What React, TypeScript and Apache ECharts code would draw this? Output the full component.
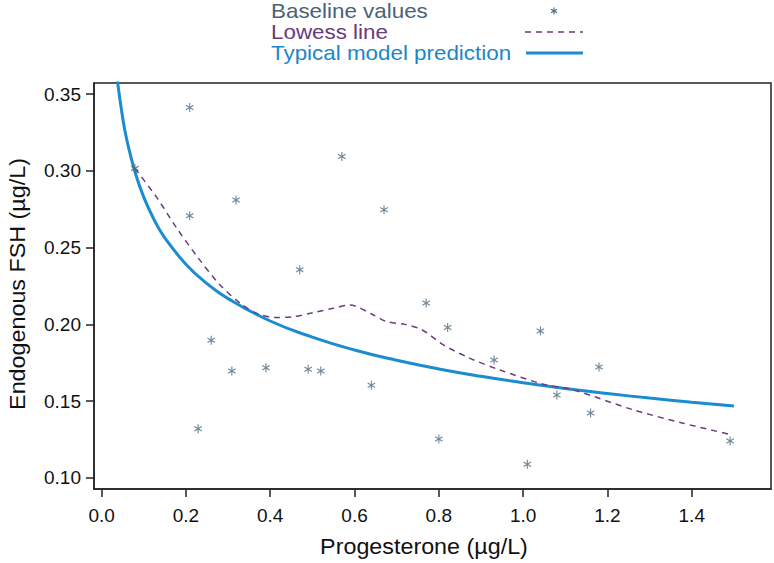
import React, { useEffect, useRef } from "react";
import * as echarts from "echarts";

// Baseline observations (progesterone µg/L, endogenous FSH µg/L)
const baselineX = [0.079, 0.209, 0.209, 0.229, 0.26, 0.309, 0.319, 0.39, 0.47, 0.49, 0.52, 0.57, 0.64, 0.67, 0.77, 0.80, 0.821, 0.931, 1.01, 1.041, 1.08, 1.16, 1.18, 1.491];
const baselineY = [0.3016, 0.3413, 0.2708, 0.1321, 0.1896, 0.1697, 0.281, 0.1718, 0.2356, 0.1708, 0.1697, 0.3094, 0.1603, 0.2747, 0.2139, 0.1254, 0.1979, 0.1768, 0.1089, 0.1957, 0.154, 0.1423, 0.1723, 0.1241];

// Lowess smoother
const lowessX = [0.079, 0.13, 0.18, 0.23, 0.28, 0.33, 0.37, 0.41, 0.455, 0.502, 0.55, 0.589, 0.645, 0.676, 0.72, 0.76, 0.811, 0.874, 0.945, 1.048, 1.119, 1.262, 1.38, 1.487];
const lowessY = [0.3016, 0.283, 0.262, 0.243, 0.226, 0.2135, 0.207, 0.2045, 0.205, 0.2076, 0.2105, 0.2126, 0.2061, 0.2018, 0.2, 0.1965, 0.1866, 0.1779, 0.1703, 0.161, 0.1573, 0.1443, 0.1356, 0.1286];

// Typical model prediction
const modelX = [0.036, 0.05, 0.06, 0.08, 0.10, 0.125, 0.15, 0.2, 0.25, 0.3, 0.4, 0.5, 0.6, 0.7, 0.8, 0.9, 1.0, 1.1, 1.2, 1.3, 1.4, 1.5];
const modelY = [0.362, 0.3345, 0.32, 0.2986, 0.2829, 0.268, 0.2564, 0.2392, 0.2266, 0.2168, 0.2022, 0.1917, 0.1833, 0.1766, 0.171, 0.1662, 0.162, 0.1583, 0.155, 0.152, 0.1493, 0.1469];

const xTicks = [0, 0.2, 0.4, 0.6, 0.8, 1.0, 1.2, 1.4];
const yTicks = [0.10, 0.15, 0.20, 0.25, 0.30, 0.35];

const legendLabels = ["Baseline values", "Lowess line", "Typical model prediction"];
const xTitle = "Progesterone (\u00b5g/L)";
const yTitle = "Endogenous FSH (\u00b5g/L)";

const STAR =
  "path://M0.87,0L1.13,0L1.13,2L0.87,2Z" +
  "M0.069,0.6126L0.199,0.3874L1.931,1.3874L1.801,1.6126Z" +
  "M0.199,1.6126L0.069,1.3874L1.801,0.3874L1.931,0.6126Z";

const FONT = "'Liberation Sans', Arial, Helvetica, sans-serif";
const C_STAR = "#4d6a80";
const C_LOW = "#6a3e7c";
const C_MODEL = "#1a8ccf";

export default function App() {
  const ref = useRef<HTMLDivElement>(null);
  useEffect(() => {
    if (!ref.current) return;
    const chart = echarts.init(ref.current, null, { renderer: "svg" });
    const zip = (a: number[], b: number[]) => a.map((v, i) => [v, b[i]]);
    const starLines = (cx: number, cy: number, r: number) =>
      [0, 60, 120].map((deg) => {
        const a = (deg * Math.PI) / 180;
        const dx = Math.sin(a) * r;
        const dy = Math.cos(a) * r;
        return {
          type: "line",
          shape: { x1: cx - dx, y1: cy - dy, x2: cx + dx, y2: cy + dy },
          style: { stroke: C_STAR, lineWidth: 1.1 },
        };
      });
    const legendText = (i: number, y: number, fill: string) => ({
      type: "text",
      x: 271,
      y,
      scaleX: 1.12,
      style: { text: legendLabels[i], fill, font: `20px ${FONT}`, verticalAlign: "middle", align: "left" },
    });
    chart.setOption({
      animation: false,
      backgroundColor: "#fff",
      textStyle: { fontFamily: FONT },
      grid: {
        left: 94,
        right: 3,
        top: 83,
        bottom: 74,
        show: true,
        borderColor: "#222",
        borderWidth: 1.5,
        containLabel: false,
      },
      xAxis: {
        type: "value",
        min: -0.018,
        max: 1.588,
        splitLine: { show: false },
        axisLine: { show: true, onZero: false, lineStyle: { color: "#222", width: 1.5 } },
        axisTick: { show: true, inside: false, length: 8, customValues: xTicks, lineStyle: { color: "#222", width: 1.5 } },
        axisLabel: {
          customValues: xTicks,
          formatter: (v: number) => v.toFixed(1),
          fontSize: 19,
          color: "#111",
          margin: 17,
          fontFamily: FONT,
        },
      },
      yAxis: {
        type: "value",
        min: 0.0928,
        max: 0.3572,
        splitLine: { show: false },
        axisLine: { show: true, onZero: false, lineStyle: { color: "#222", width: 1.5 } },
        axisTick: { show: true, inside: false, length: 8, customValues: yTicks, lineStyle: { color: "#222", width: 1.5 } },
        axisLabel: {
          customValues: yTicks,
          formatter: (v: number) => v.toFixed(2),
          fontSize: 19,
          color: "#111",
          margin: 13,
          fontFamily: FONT,
        },
      },
      series: [
        {
          name: legendLabels[2],
          type: "line",
          data: zip(modelX, modelY),
          smooth: true,
          showSymbol: false,
          lineStyle: { color: C_MODEL, width: 3 },
          z: 2,
        },
        {
          name: legendLabels[1],
          type: "line",
          data: zip(lowessX, lowessY),
          smooth: 0.3,
          showSymbol: false,
          lineStyle: { color: C_LOW, width: 1.5, type: [6, 5] },
          z: 3,
        },
        {
          name: legendLabels[0],
          type: "scatter",
          data: zip(baselineX, baselineY),
          symbol: STAR,
          symbolSize: [8, 9],
          itemStyle: { color: C_STAR },
          z: 4,
        },
      ],
      graphic: [
        legendText(0, 11, "#4a6276"),
        legendText(1, 32, "#6a3a7c"),
        legendText(2, 53, "#1a87c6"),
        ...starLines(554, 11, 3.5),
        {
          type: "line",
          shape: { x1: 525, y1: 32, x2: 583, y2: 32 },
          style: { stroke: C_LOW, lineWidth: 1.6, lineDash: [6, 5] },
        },
        {
          type: "line",
          shape: { x1: 526, y1: 53, x2: 583, y2: 53 },
          style: { stroke: C_MODEL, lineWidth: 3 },
        },
        {
          type: "text",
          x: 424,
          y: 546,
          scaleX: 1.06,
          style: { text: xTitle, fill: "#111", font: `22px ${FONT}`, align: "center", verticalAlign: "middle" },
        },
        {
          type: "text",
          x: 17,
          y: 284,
          rotation: Math.PI / 2,
          scaleX: 1.06,
          style: { text: yTitle, fill: "#111", font: `22px ${FONT}`, align: "center", verticalAlign: "middle" },
        },
      ],
    });
    return () => chart.dispose();
  }, []);
  return (
    <div
      ref={ref}
      style={{ position: "fixed", left: 0, top: 0, width: 774, height: 563, background: "#fff" }}
    />
  );
}
